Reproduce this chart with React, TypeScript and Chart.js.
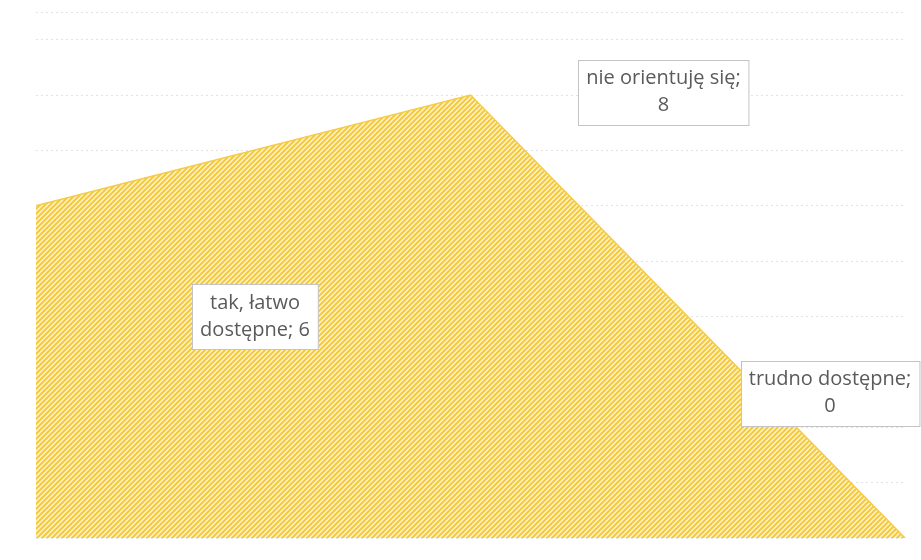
import React, { useEffect, useRef } from "react";
import { Chart, registerables } from "chart.js";

Chart.register(...registerables);

const categories = ["tak, łatwo dostępne", "nie orientuję się", "trudno dostępne"];
const values = [6, 8, 0];
const labelLines = [
  ["tak, łatwo", "dostępne; 6"],
  ["nie orientuję się;", "8"],
  ["trudno dostępne;", "0"],
];
const labelOffsets = [
  [219, 111],
  [193, -3],
  [-75, -145],
];

function makePattern(): CanvasPattern | string {
  const c = document.createElement("canvas");
  const s = 5;
  c.width = s;
  c.height = s;
  const ctx = c.getContext("2d");
  if (!ctx) return "#F7D56A";
  ctx.fillStyle = "#FFF4CC";
  ctx.fillRect(0, 0, s, s);
  ctx.strokeStyle = "#F4C93E";
  ctx.lineWidth = 2;
  ctx.beginPath();
  ctx.moveTo(-1, s + 1);
  ctx.lineTo(s + 1, -1);
  ctx.moveTo(-1, 1);
  ctx.lineTo(1, -1);
  ctx.moveTo(s - 1, s + 1);
  ctx.lineTo(s + 1, s - 1);
  ctx.stroke();
  const p = ctx.createPattern(c, "repeat");
  return p || "#F7D56A";
}

const labelPlugin = {
  id: "boxLabels",
  afterDatasetsDraw(chart: any) {
    const ctx = chart.ctx as CanvasRenderingContext2D;
    const meta = chart.getDatasetMeta(0);
    ctx.save();
    ctx.font = "20px 'Open Sans', sans-serif";
    ctx.textAlign = "center";
    ctx.textBaseline = "middle";
    meta.data.forEach((pt: any, i: number) => {
      const lines = labelLines[i];
      const cx = pt.x + labelOffsets[i][0];
      const cy = pt.y + labelOffsets[i][1];
      const w = Math.max(...lines.map((l) => ctx.measureText(l).width)) + 16;
      const lh = 27;
      const h = lines.length * lh + 11;
      const x0 = Math.round(cx - w / 2) + 0.5;
      const y0 = Math.round(cy - h / 2) + 0.5;
      ctx.fillStyle = "#ffffff";
      ctx.fillRect(x0, y0, w, h);
      ctx.strokeStyle = "#C4C4C4";
      ctx.lineWidth = 1;
      ctx.strokeRect(x0, y0, w, h);
      ctx.fillStyle = "#5A5A5A";
      lines.forEach((l, k) => {
        ctx.fillText(l, cx, cy - ((lines.length - 1) * lh) / 2 + k * lh);
      });
    });
    ctx.restore();
  },
};

export default function App() {
  const ref = useRef<HTMLCanvasElement>(null);
  useEffect(() => {
    document.body.style.margin = "0";
    const canvas = ref.current;
    if (!canvas) return;
    const chart = new Chart(canvas, {
      type: "line",
      data: {
        labels: categories,
        datasets: [
          {
            data: values,
            fill: "origin",
            backgroundColor: makePattern() as any,
            borderColor: "#F5CB4A",
            borderWidth: 1.5,
            pointRadius: 0,
            tension: 0,
          },
        ],
      },
      options: {
        animation: false,
        responsive: false,
        maintainAspectRatio: false,
        layout: { padding: { left: 36, right: 16, top: 12, bottom: 14 } },
        plugins: { legend: { display: false }, tooltip: { enabled: false } },
        scales: {
          x: {
            display: true,
            offset: false,
            grid: { display: false },
            border: { display: false },
            ticks: { display: false },
          },
          y: {
            min: 0,
            max: 9.5,
            grid: {
              color: "rgba(0,0,0,0.11)",
              lineWidth: 1,
              drawTicks: false,
            },
            border: { display: false, dash: [2, 3] },
            ticks: { display: false, stepSize: 1 },
          },
        },
      },
      plugins: [labelPlugin],
    });
    return () => chart.destroy();
  }, []);
  return (
    <div style={{ width: 921, height: 560 }}>
      <canvas ref={ref} width={921} height={560} style={{ display: "block" }} />
    </div>
  );
}
